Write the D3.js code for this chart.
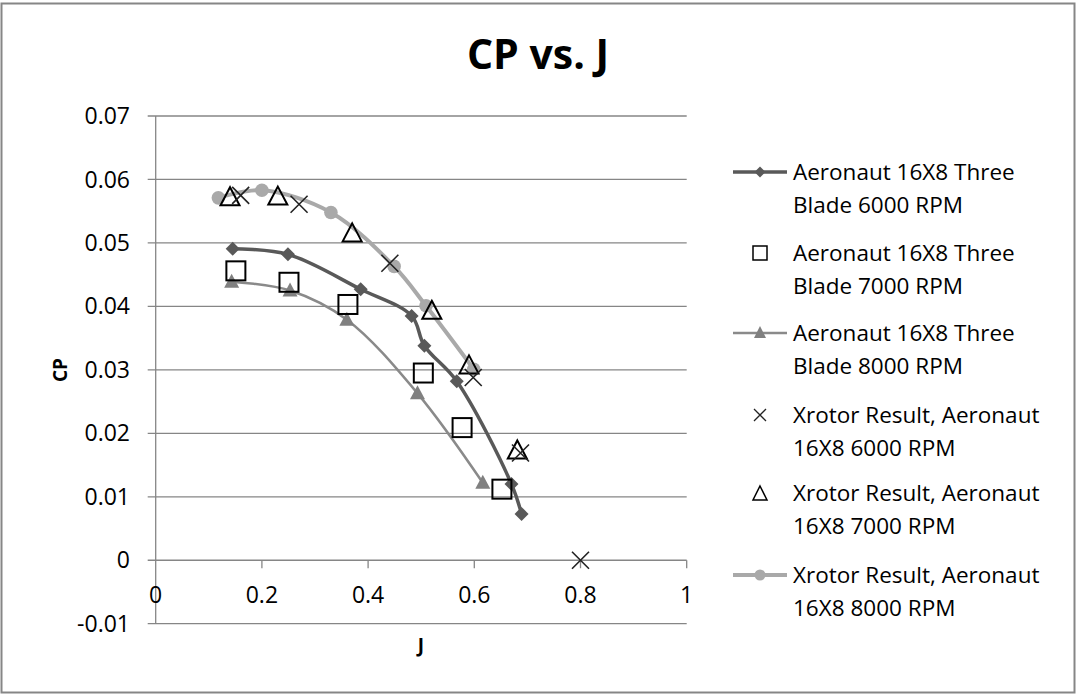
<!DOCTYPE html>
<html><head><meta charset="utf-8">
<script src="https://cdn.jsdelivr.net/npm/d3@7"></script>
<style>body{margin:0;background:#fff}svg{display:block}text{font-family:"Open Sans",sans-serif;fill:#000}</style>
</head><body><svg id="c" width="1077" height="698"></svg>
<script>
const xTicks = [0, 0.2, 0.4, 0.6, 0.8, 1];
const yTicks = [-0.01, 0, 0.01, 0.02, 0.03, 0.04, 0.05, 0.06, 0.07];
const xTickLabels = ["0", "0.2", "0.4", "0.6", "0.8", "1"];
const yTickLabels = ["-0.01", "0", "0.01", "0.02", "0.03", "0.04", "0.05", "0.06", "0.07"];

const s1J  = [0.145, 0.249, 0.386, 0.482, 0.506, 0.567, 0.670, 0.689];
const s1CP = [0.0491, 0.0482, 0.0427, 0.0385, 0.0338, 0.0282, 0.0120, 0.0073];
const s2J  = [0.151, 0.251, 0.362, 0.504, 0.577, 0.652];
const s2CP = [0.0456, 0.0438, 0.0403, 0.0295, 0.0209, 0.0112];
const s3J  = [0.143, 0.253, 0.360, 0.493, 0.616];
const s3CP = [0.0439, 0.0425, 0.0379, 0.0263, 0.0122];
const s4J  = [0.160, 0.270, 0.441, 0.598, 0.687, 0.800];
const s4CP = [0.0575, 0.0561, 0.0468, 0.0288, 0.0169, 0.0];
const s5J  = [0.140, 0.230, 0.370, 0.520, 0.590, 0.681];
const s5CP = [0.0572, 0.0573, 0.0515, 0.0393, 0.0307, 0.0173];
const s6J  = [0.118, 0.200, 0.330, 0.449, 0.509, 0.599];
const s6CP = [0.0571, 0.0583, 0.0548, 0.0463, 0.0401, 0.0301];

const seriesNames = [
  ["Aeronaut 16X8 Three", "Blade 6000 RPM"],
  ["Aeronaut 16X8 Three", "Blade 7000 RPM"],
  ["Aeronaut 16X8 Three", "Blade 8000 RPM"],
  ["Xrotor Result, Aeronaut", "16X8 6000 RPM"],
  ["Xrotor Result, Aeronaut", "16X8 7000 RPM"],
  ["Xrotor Result, Aeronaut", "16X8 8000 RPM"]
];

const svg = d3.select("#c");
const x = d3.scaleLinear().domain([0, 1]).range([155.7, 686.7]);
const y = d3.scaleLinear().domain([-0.01, 0.07]).range([623.7, 116]);
const grid = "#868686";

// frame
svg.append("rect").attr("x", 1.5).attr("y", 3.5).attr("width", 1073).attr("height", 689)
  .attr("fill", "#fff").attr("stroke", grid).attr("stroke-width", 2);

// gridlines
svg.append("g").selectAll("line").data(yTicks).join("line")
  .attr("x1", x(0) - 8).attr("x2", x(1)).attr("y1", d => y(d)).attr("y2", d => y(d))
  .attr("stroke", grid).attr("stroke-width", 1.3);
// y axis line
svg.append("line").attr("x1", x(0)).attr("x2", x(0)).attr("y1", y(0.07)).attr("y2", y(-0.01))
  .attr("stroke", grid).attr("stroke-width", 1.3);
// x tick marks (on zero line)
svg.append("g").selectAll("line").data(xTicks.slice(1)).join("line")
  .attr("x1", d => x(d)).attr("x2", d => x(d)).attr("y1", y(0)).attr("y2", y(0) + 8)
  .attr("stroke", grid).attr("stroke-width", 1.3);

// y tick labels
svg.append("g").selectAll("text").data(yTicks).join("text")
  .attr("x", 130).attr("y", d => y(d)).attr("dy", "0.35em").attr("text-anchor", "end")
  .attr("font-size", 23).text((d, i) => yTickLabels[i]);
// x tick labels
svg.append("g").selectAll("text").data(xTicks).join("text")
  .attr("x", d => x(d)).attr("y", 595).attr("dy", "0.35em").attr("text-anchor", "middle")
  .attr("font-size", 23).text((d, i) => xTickLabels[i]);

// titles
svg.append("text").attr("x", 538).attr("y", 69).attr("text-anchor", "middle")
  .attr("font-size", 41).attr("font-weight", "bold").text("CP vs. J");
svg.append("text").attr("transform", "translate(67,370) rotate(-90)").attr("text-anchor", "middle")
  .attr("font-size", 19).attr("font-weight", "bold").text("CP");
svg.append("text").attr("x", 421).attr("y", 652).attr("text-anchor", "middle")
  .attr("font-size", 19).attr("font-weight", "bold").text("J");

const zip = (a, b) => a.map((v, i) => [v, b[i]]);
const line = d3.line().x(d => x(d[0])).y(d => y(d[1])).curve(d3.curveCatmullRom.alpha(0.5));

const c1 = "#595959", c3 = "#8a8a8a", c6 = "#a9a9a9";
const pts1 = zip(s1J, s1CP), pts2 = zip(s2J, s2CP), pts3 = zip(s3J, s3CP);
const pts4 = zip(s4J, s4CP), pts5 = zip(s5J, s5CP), pts6 = zip(s6J, s6CP);

const plot = svg.append("g");
plot.append("path").attr("d", line(pts6)).attr("fill", "none").attr("stroke", c6).attr("stroke-width", 4);
plot.append("path").attr("d", line(pts3)).attr("fill", "none").attr("stroke", c3).attr("stroke-width", 2.5);
plot.append("path").attr("d", line(pts1)).attr("fill", "none").attr("stroke", c1).attr("stroke-width", 3.5);

const sym = {
  diamond: (g, cx, cy) => g.append("path").attr("d", `M${cx},${cy-7}L${cx+7},${cy}L${cx},${cy+7}L${cx-7},${cy}Z`).attr("fill", c1),
  square: (g, cx, cy) => g.append("rect").attr("x", cx-9.5).attr("y", cy-9.5).attr("width", 19).attr("height", 19).attr("fill", "none").attr("stroke", "#000").attr("stroke-width", 2),
  ftri: (g, cx, cy) => g.append("path").attr("d", `M${cx},${cy-8}L${cx+7.5},${cy+6}L${cx-7.5},${cy+6}Z`).attr("fill", "#808080"),
  cross: (g, cx, cy) => g.append("path").attr("d", `M${cx-8.5},${cy-8.5}L${cx+8.5},${cy+8.5}M${cx+8.5},${cy-8.5}L${cx-8.5},${cy+8.5}`).attr("stroke", "#222").attr("stroke-width", 1.6).attr("fill", "none"),
  otri: (g, cx, cy) => g.append("path").attr("d", `M${cx},${cy-10}L${cx+9.5},${cy+8}L${cx-9.5},${cy+8}Z`).attr("fill", "none").attr("stroke", "#000").attr("stroke-width", 2),
  circle: (g, cx, cy) => g.append("circle").attr("cx", cx).attr("cy", cy).attr("r", 6.8).attr("fill", c6)
};

pts6.forEach(d => sym.circle(plot, x(d[0]), y(d[1])));
pts3.forEach(d => sym.ftri(plot, x(d[0]), y(d[1])));
pts1.forEach(d => sym.diamond(plot, x(d[0]), y(d[1])));
pts2.forEach(d => sym.square(plot, x(d[0]), y(d[1])));
pts5.forEach(d => sym.otri(plot, x(d[0]), y(d[1])));
pts4.forEach(d => sym.cross(plot, x(d[0]), y(d[1])));

// legend
const legY = [172, 253, 333, 415, 493, 575];
const legSym = ["diamond", "square", "ftri", "cross", "otri", "circle"];
const legLine = [[c1, 3.5], null, [c3, 2.5], null, null, [c6, 4]];
const leg = svg.append("g");
seriesNames.forEach((nm, i) => {
  const cy = legY[i];
  if (legLine[i]) leg.append("line").attr("x1", 733).attr("x2", 787).attr("y1", cy).attr("y2", cy)
    .attr("stroke", legLine[i][0]).attr("stroke-width", legLine[i][1]);
  const s = legSym[i];
  if (s === "square") leg.append("rect").attr("x", 753).attr("y", cy - 7).attr("width", 14).attr("height", 14).attr("fill", "none").attr("stroke", "#000").attr("stroke-width", 1.5);
  else if (s === "cross") leg.append("path").attr("d", `M${754},${cy-6}L${766},${cy+6}M${766},${cy-6}L${754},${cy+6}`).attr("stroke", "#222").attr("stroke-width", 1.3);
  else if (s === "otri") leg.append("path").attr("d", `M760,${cy-7}L767,${cy+7}L753,${cy+7}Z`).attr("fill", "none").attr("stroke", "#000").attr("stroke-width", 1.5);
  else if (s === "diamond") leg.append("path").attr("d", `M760,${cy-5.5}L765.5,${cy}L760,${cy+5.5}L754.5,${cy}Z`).attr("fill", c1);
  else if (s === "ftri") leg.append("path").attr("d", `M760,${cy-7}L766,${cy+5}L754,${cy+5}Z`).attr("fill", "#808080");
  else if (s === "circle") leg.append("circle").attr("cx", 760).attr("cy", cy).attr("r", 5.5).attr("fill", c6);
  nm.forEach((t, j) => leg.append("text").attr("x", 793).attr("y", cy + j * 33).attr("dy", "0.35em")
    .attr("font-size", 22.5).text(t));
});
</script></body></html>
